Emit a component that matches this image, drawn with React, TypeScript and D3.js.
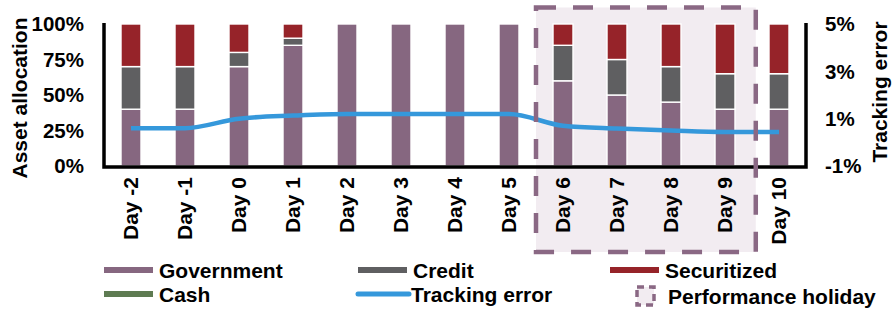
import React, { useEffect, useRef } from "react";
import * as d3 from "d3";

const days = ["Day -2", "Day -1", "Day 0", "Day 1", "Day 2", "Day 3", "Day 4", "Day 5", "Day 6", "Day 7", "Day 8", "Day 9", "Day 10"];
const government = [40, 40, 70, 85, 100, 100, 100, 100, 60, 50, 45, 40, 40];
const credit = [30, 30, 10, 5, 0, 0, 0, 0, 25, 25, 25, 25, 25];
const cash = [0, 0, 0, 0, 0, 0, 0, 0, 0, 0, 0, 0, 0];
const securitized = [30, 30, 20, 10, 0, 0, 0, 0, 15, 25, 30, 35, 35];
const trackingError = [0.6, 0.6, 1.0, 1.13, 1.2, 1.2, 1.2, 1.2, 0.7, 0.58, 0.5, 0.44, 0.44];
const leftTicks = [0, 25, 50, 75, 100];
const rightTicks = [-1, 1, 3, 5];
const holiday = ["Day 6", "Day 9"];

const W = 896;
const H = 309;
const FONT = "Arial, 'Liberation Sans', sans-serif";
const colors: Record<string, string> = {
  Government: "#866780",
  Credit: "#5f5f61",
  Cash: "#5e7b52",
  Securitized: "#962329",
};

const drawChart = (svgEl: SVGSVGElement) => {
  const svg = d3.select(svgEl);
  svg.selectAll("*").remove();

  const left = 104;
  const right = 806;
  const top = 24;
  const bottom = 166;

  const x = d3.scaleBand().domain(days).range([left, right]).paddingInner(0.63).paddingOuter(0.315);
  const y = d3.scaleLinear().domain([0, 100]).range([bottom, top]);
  const y2 = d3.scaleLinear().domain([-1, 5]).range([bottom, top]);

  // performance holiday shading
  const step = x.step();
  const hx0 = (x(holiday[0]) || 0) + x.bandwidth() / 2 - step * 0.5;
  const hx1 = (x(holiday[1]) || 0) + x.bandwidth() / 2 + step * 0.57;
  const hy0 = 7.5;
  const hy1 = 252;
  svg.append("rect").attr("x", hx0).attr("y", hy0).attr("width", hx1 - hx0).attr("height", hy1 - hy0).attr("fill", "#f2ecf1");

  // stacked bars
  const rows = days.map((d, i) => ({
    day: d,
    Government: government[i],
    Credit: credit[i],
    Cash: cash[i],
    Securitized: securitized[i],
  }));
  const keys = ["Government", "Credit", "Cash", "Securitized"];
  const stack = d3.stack<any>().keys(keys)(rows);
  stack.forEach((layer) => {
    svg
      .append("g")
      .selectAll("rect")
      .data(layer.filter((p) => p[1] - p[0] > 0))
      .enter()
      .append("rect")
      .attr("x", (p: any) => x(p.data.day) || 0)
      .attr("width", x.bandwidth())
      .attr("y", (p) => y(p[1]))
      .attr("height", (p) => y(p[0]) - y(p[1]))
      .attr("fill", colors[layer.key])
      .attr("stroke", "#fff")
      .attr("stroke-width", 1.4);
  });

  // axes lines
  svg.append("path").attr("d", `M${left},${top - 1}V${bottom + 1}H${right}V${top - 1}`).attr("fill", "none").attr("stroke", "#000").attr("stroke-width", 3.5);

  // tick labels
  svg
    .append("g")
    .selectAll("text")
    .data(leftTicks)
    .enter()
    .append("text")
    .attr("class", "tick")
    .attr("x", 84)
    .attr("y", (d) => y(d))
    .attr("dy", "0.35em")
    .attr("text-anchor", "end")
    .text((d) => d + "%");
  svg
    .append("g")
    .selectAll("text")
    .data(rightTicks)
    .enter()
    .append("text")
    .attr("class", "tick")
    .attr("x", 825)
    .attr("y", (d) => y2(d))
    .attr("dy", "0.35em")
    .text((d) => d + "%");

  // x labels
  svg
    .append("g")
    .selectAll("text")
    .data(days)
    .enter()
    .append("text")
    .attr("transform", (d) => `translate(${(x(d) || 0) + x.bandwidth() / 2},177) rotate(-90)`)
    .attr("dy", "0.35em")
    .attr("text-anchor", "end")
    .text((d) => d);

  // axis titles
  svg.append("text").attr("transform", "translate(27,98) rotate(-90)").attr("text-anchor", "middle").text("Asset allocation");
  svg.append("text").attr("transform", "translate(887,92) rotate(-90)").attr("text-anchor", "middle").text("Tracking error");

  // tracking error line
  const line = d3
    .line<number>()
    .x((_, i) => (x(days[i]) || 0) + x.bandwidth() / 2)
    .y((v) => y2(v))
    .curve(d3.curveMonotoneX);
  svg.append("path").datum(trackingError).attr("d", line).attr("fill", "none").attr("stroke", "#3598db").attr("stroke-width", 4.5);

  // holiday border
  svg
    .append("rect")
    .attr("x", hx0)
    .attr("y", hy0)
    .attr("width", hx1 - hx0)
    .attr("height", hy1 - hy0)
    .attr("fill", "none")
    .attr("stroke", "#8a6884")
    .attr("stroke-width", 4.5)
    .attr("stroke-dasharray", "20 17");

  // legend
  const legend = svg.append("g");
  const items = [
    { name: "Government", kind: "bar", color: colors.Government, x: 104, y: 270 },
    { name: "Credit", kind: "bar", color: colors.Credit, x: 358, y: 270 },
    { name: "Securitized", kind: "bar", color: colors.Securitized, x: 610, y: 270 },
    { name: "Cash", kind: "bar", color: colors.Cash, x: 104, y: 294 },
    { name: "Tracking error", kind: "line", color: "#3598db", x: 356, y: 294 },
  ];
  items.forEach((it) => {
    if (it.kind === "bar") {
      legend.append("rect").attr("x", it.x).attr("y", it.y - 3).attr("width", 49).attr("height", 6).attr("fill", it.color);
    } else {
      legend
        .append("line")
        .attr("x1", it.x + 2)
        .attr("x2", it.x + 53)
        .attr("y1", it.y)
        .attr("y2", it.y)
        .attr("stroke", it.color)
        .attr("stroke-width", 5)
        .attr("stroke-linecap", "round");
    }
    legend.append("text").attr("x", it.x + 55).attr("y", it.y).attr("dy", "0.36em").text(it.name);
  });
  legend.append("rect").attr("x", 637).attr("y", 287).attr("width", 17).attr("height", 18).attr("fill", "#f2ecf1").attr("stroke", "#8a6884").attr("stroke-width", 3.5).attr("stroke-dasharray", "7 5");
  legend.append("text").attr("x", 668).attr("y", 296).attr("dy", "0.36em").text("Performance holiday");

  svg.selectAll("text").attr("font-family", FONT).attr("font-weight", "bold").attr("font-size", 21).attr("fill", "#000");
  svg.selectAll("text.tick").attr("font-size", 20.5);
};

const App = () => {
  const ref = useRef<SVGSVGElement>(null);
  useEffect(() => {
    if (ref.current) drawChart(ref.current);
  }, []);
  return (
    <svg
      ref={ref}
      width={W}
      height={H}
      style={{ position: "fixed", left: 0, top: 0, background: "#fff", display: "block" }}
    ></svg>
  );
};

export default App;
